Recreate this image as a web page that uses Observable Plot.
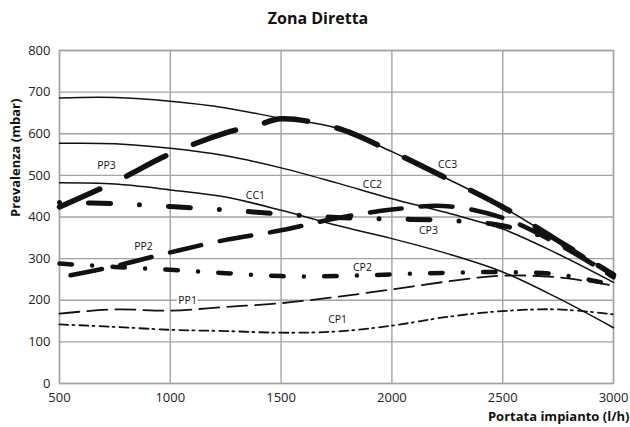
<!DOCTYPE html>
<html>
<head>
<meta charset="utf-8">
<script src="https://cdn.jsdelivr.net/npm/d3@7"></script>
<script src="https://cdn.jsdelivr.net/npm/@observablehq/plot@0.6"></script>
<style>
  html, body { margin: 0; padding: 0; background: #fff; }
  #title { width: 630px; height: 30px; line-height: 36px; text-align: center; padding-left: 6px; box-sizing: border-box;
           font-family: "Open Sans", "Noto Sans", sans-serif; font-weight: 700; font-size: 16px; color: #111; overflow: visible; }
  #chart svg { overflow: visible; }
</style>
</head>
<body>
<div id="title">Zona Diretta</div>
<div id="chart"></div>
<script>
// Flow rate (l/h)
const flow = [500, 750, 1000, 1250, 1500, 1750, 2000, 2250, 2500, 2750, 3000];
// Head (mbar) for each curve
const cc1 = [482, 479, 465, 448, 416, 380, 348, 312, 268, 205, 134];
const cc2 = [577, 576, 565, 547, 518, 482, 444, 410, 371, 311, 243];
const cc3 = [686, 687, 678, 662, 637, 614, 557, 492, 424, 343, 261];
const cp1 = [142, 136, 129, 126, 122, 125, 139, 160, 174, 178, 166];
const cp2 = [288, 280, 273, 265, 258, 258, 262, 266, 268, 262, 237];
const cp3 = [435, 432, 425, 417, 407, 399, 395, 392, 379, 338, 255];
const pp1 = [168, 178, 175, 184, 193, 208, 226, 245, 259, 255, 235];
const flowPP2 = [550, 750, 1000, 1250, 1500, 1750, 2000, 2250, 2500, 2750, 3000];
const pp2 = [260, 282, 315, 345, 368, 397, 418, 426, 398, 335, 255];
const flowPP3 = [500, 750, 1000, 1250, 1400, 1500, 1750, 2000, 2250, 2500, 2750, 3000];
const pp3 = [424, 484, 552, 602, 622, 636, 614, 557, 492, 424, 343, 261];

// Curve labels
const labelNames = ["PP3", "CC1", "CC2", "CC3", "CP3", "PP2", "CP2", "CP1"];
const labelX = [712, 1384, 1912, 2251, 2165, 879, 1867, 1755];
const labelY = [524, 452, 478, 526, 367, 329, 279, 154];
const pp1Label = {name: "PP1", x: 1078, y: 200};

const xTicks = [500, 1000, 1500, 2000, 2500, 3000];
const yTicks = [0, 100, 200, 300, 400, 500, 600, 700, 800];

const toRows = (xs, ys) => xs.map((x, i) => ({x, y: ys[i]}));
const labels = labelNames.map((name, i) => ({name, x: labelX[i], y: labelY[i]}));

const font = '"Open Sans", "Noto Sans", sans-serif';
const gridColor = "#a3a3a3";

const line = (rows, opts) => Plot.line(rows, {x: "x", y: "y", stroke: "#111", curve: "catmull-rom", ...opts});

const chart = Plot.plot({
  width: 630,
  height: 397,
  marginTop: 20,
  marginBottom: 44,
  marginLeft: 59,
  marginRight: 17,
  style: {fontFamily: font, color: "#222", background: "white"},
  x: {domain: [500, 3000]},
  y: {domain: [0, 800]},
  marks: [
    Plot.gridX(xTicks, {stroke: gridColor, strokeOpacity: 1, strokeWidth: 1.4}),
    Plot.gridY(yTicks, {stroke: gridColor, strokeOpacity: 1, strokeWidth: 1.4}),
    Plot.frame({stroke: gridColor, strokeWidth: 1.4}),
    Plot.axisX({ticks: xTicks, tickSize: 0, tickPadding: 9, fontSize: 13, label: null, tickFormat: d => String(d)}),
    Plot.axisY({ticks: yTicks, tickSize: 0, tickPadding: 9, fontSize: 13, label: null}),
    line(toRows(flow, pp1), {strokeWidth: 1.8, strokeDasharray: "20,8"}),
    line(toRows(flow, cp1), {strokeWidth: 1.8, strokeDasharray: "9,4,2,5"}),
    line(toRows(flow, cc1), {strokeWidth: 1.5}),
    line(toRows(flow, cc2), {strokeWidth: 1.5}),
    line(toRows(flow, cc3), {strokeWidth: 1.5}),
    line(toRows(flow, cp2), {strokeWidth: 4.5, strokeDasharray: "12.5,20.25,0,20.25", strokeLinecap: "round"}),
    line(toRows(flowPP2, pp2), {strokeWidth: 4.5, strokeDasharray: "32,19", strokeLinecap: "round"}),
    line(toRows(flow, cp3), {strokeWidth: 5, strokeDasharray: "0,29,22,29", strokeLinecap: "round"}),
    line(toRows(flowPP3, pp3), {strokeWidth: 5.5, strokeDasharray: "44,30", strokeLinecap: "round"}),
    Plot.text(labels, {x: "x", y: "y", text: "name", fontSize: 10.5, fill: "#111"}),
    Plot.text([pp1Label], {x: "x", y: "y", text: "name", fontSize: 10.5, fill: "#111", stroke: "white", strokeWidth: 5, paintOrder: "stroke"}),
    Plot.text(["Prevalenza (mbar)"], {frameAnchor: "left", rotate: -90, dx: -44, fontSize: 13, fontWeight: "bold", fill: "#111"}),
    Plot.text(["Portata impianto (l/h)"], {frameAnchor: "bottom-right", textAnchor: "end", dx: 16, dy: 37, fontSize: 13, fontWeight: "bold", fill: "#111"})
  ]
});
document.getElementById("chart").appendChild(chart);
</script>
</body>
</html>
